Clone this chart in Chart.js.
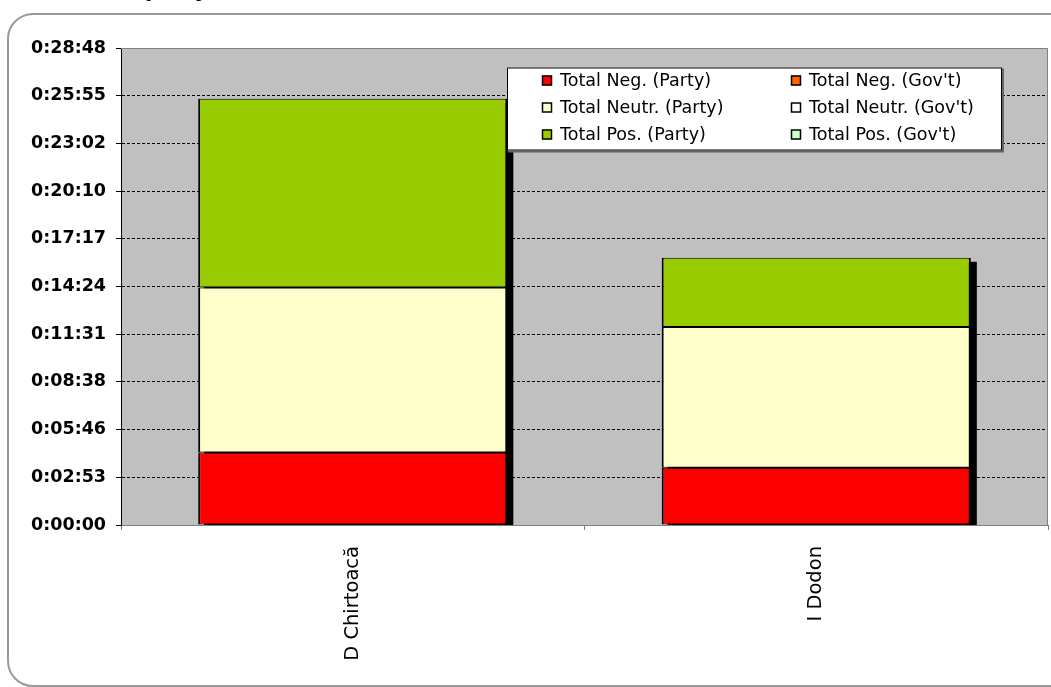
<!DOCTYPE html>
<html lang="en">
<head>
    <meta charset="UTF-8">
    <title>Party time</title>
    <script src="https://cdn.jsdelivr.net/npm/chart.js@4.4.1/dist/chart.umd.min.js"></script>
    <style>
        * {
            margin: 0;
            padding: 0;
            box-sizing: border-box;
        }

        body {
            width: 1051px;
            height: 687px;
            overflow: hidden;
            background: white;
            position: relative;
            font-family: 'DejaVu Sans', Verdana, sans-serif;
        }

        .title {
            position: absolute;
            left: 145px;
            top: -22px;
            font-size: 21px;
            font-weight: bold;
            color: #000;
            white-space: nowrap;
        }

        .frame {
            position: absolute;
            left: 7px;
            top: 13px;
            width: 1070px;
            height: 674px;
            border: 2px solid #999;
            border-radius: 26px;
        }

        .chart-box {
            position: absolute;
            left: 0;
            top: 0;
            width: 1051px;
            height: 687px;
        }
    </style>
</head>
<body>
    <div class="title">party</div>
    <div class="frame"></div>
    <div class="chart-box">
        <canvas id="partyChart" width="1051" height="687"></canvas>
    </div>

    <script>
        // values in seconds
        const categories = ['D Chirtoacă', 'I Dodon'];
        const negParty = [263, 207];
        const negGov = [0, 0];
        const neutrParty = [597, 510];
        const neutrGov = [0, 0];
        const posParty = [684, 251];
        const posGov = [0, 0];

        const yMax = 1728;
        const yStep = 172.8;
        const yTickLabels = ['0:00:00', '0:02:53', '0:05:46', '0:08:38', '0:11:31', '0:14:24',
            '0:17:17', '0:20:10', '0:23:02', '0:25:55', '0:28:48'];

        const seriesNames = ['Total Neg. (Party)', "Total Neg. (Gov't)", 'Total Neutr. (Party)',
            "Total Neutr. (Gov't)", 'Total Pos. (Party)', "Total Pos. (Gov't)"];
        const seriesColors = ['#FF0000', '#FF6600', '#FFFFCC', '#FFFFFF', '#99CC00', '#CCFFCC'];
        const seriesValues = [negParty, negGov, neutrParty, neutrGov, posParty, posGov];

        // grey plot area
        const plotBack = {
            id: 'plotBack',
            beforeDraw(chart) {
                const {ctx, chartArea: a} = chart;
                ctx.save();
                ctx.fillStyle = '#C0C0C0';
                ctx.fillRect(a.left, a.top, a.right - a.left, a.bottom - a.top);
                ctx.restore();
            },
            afterDraw(chart) {
                const {ctx, chartArea: a} = chart;
                ctx.save();
                ctx.strokeStyle = '#808080';
                ctx.lineWidth = 1;
                ctx.beginPath();
                ctx.moveTo(a.left, a.top + 0.5);
                ctx.lineTo(a.right - 0.5, a.top + 0.5);
                ctx.lineTo(a.right - 0.5, a.bottom);
                ctx.stroke();
                ctx.restore();
            }
        };

        // black drop shadow behind each stack
        const barShadow = {
            id: 'barShadow',
            beforeDatasetsDraw(chart) {
                const {ctx, chartArea: a} = chart;
                ctx.save();
                ctx.beginPath();
                ctx.rect(a.left, a.top, a.right - a.left, a.bottom - a.top);
                ctx.clip();
                ctx.fillStyle = '#000';
                categories.forEach((c, i) => {
                    let top = Infinity, bottom = -Infinity, left = 0, width = 0;
                    chart.data.datasets.forEach((ds, d) => {
                        const bar = chart.getDatasetMeta(d).data[i];
                        if (!bar) return;
                        const p = bar.getProps(['x', 'y', 'base', 'width'], true);
                        top = Math.min(top, p.y);
                        bottom = Math.max(bottom, p.base);
                        left = p.x - p.width / 2;
                        width = p.width;
                    });
                    ctx.fillRect(left + 6, top + 4, width, bottom - top);
                });
                ctx.restore();
            }
        };

        // two column legend box inside the plot
        const boxLegend = {
            id: 'boxLegend',
            afterDraw(chart) {
                const {ctx, chartArea: a} = chart;
                const x0 = a.left + 386, y0 = a.top + 19.5;
                const w = 495, h = 83;
                ctx.save();
                ctx.fillStyle = '#666';
                ctx.fillRect(x0 + 1, y0 + 1, w + 1, h + 1);
                ctx.fillStyle = '#fff';
                ctx.fillRect(x0, y0, w, h);
                ctx.strokeStyle = '#000';
                ctx.lineWidth = 1;
                ctx.strokeRect(x0 + 0.5, y0 + 0.5, w - 1, h - 1);
                ctx.font = '17.5px "DejaVu Sans"';
                ctx.textBaseline = 'middle';
                chart.data.datasets.forEach((ds, d) => {
                    const col = d % 2, row = Math.floor(d / 2);
                    const sx = x0 + 35 + col * 249;
                    const sy = y0 + 13 + row * 27;
                    ctx.fillStyle = ds.backgroundColor;
                    ctx.fillRect(sx, sy - 5, 10, 10);
                    ctx.strokeStyle = '#000';
                    ctx.lineWidth = 1.5;
                    ctx.strokeRect(sx + 0.5, sy - 4.5, 9, 9);
                    ctx.fillStyle = '#000';
                    ctx.fillText(ds.label, sx + 18, sy + 1);
                });
                ctx.restore();
            }
        };

        new Chart(document.getElementById('partyChart'), {
            type: 'bar',
            data: {
                labels: categories,
                datasets: seriesNames.map((name, i) => ({
                    label: name,
                    data: seriesValues[i],
                    backgroundColor: seriesColors[i],
                    borderColor: '#000',
                    borderWidth: {top: 1, bottom: 1, left: 2, right: 2},
                    borderSkipped: false,
                    categoryPercentage: 1,
                    barPercentage: 0.667
                }))
            },
            options: {
                responsive: false,
                animation: false,
                layout: {
                    padding: {top: 48, right: 3, left: 0, bottom: 0}
                },
                plugins: {
                    legend: {display: false},
                    tooltip: {enabled: false}
                },
                scales: {
                    x: {
                        stacked: true,
                        afterFit(scale) { scale.height = 162; },
                        grid: {
                            offset: true,
                            drawOnChartArea: false,
                            color: '#808080',
                            tickLength: 5
                        },
                        border: {color: '#808080', width: 1},
                        ticks: {
                            minRotation: 90,
                            maxRotation: 90,
                            padding: 16,
                            color: '#000',
                            font: {family: 'DejaVu Sans', size: 19.5}
                        }
                    },
                    y: {
                        stacked: true,
                        min: 0,
                        max: yMax,
                        afterFit(scale) { scale.width = 121; },
                        grid: {
                            color: (ctx) => (ctx.index === 0 || ctx.index === yTickLabels.length - 1) ? 'rgba(0,0,0,0)' : '#000',
                            tickColor: '#000',
                            tickLength: 5,
                            lineWidth: 1
                        },
                        border: {color: '#000', width: 1, dash: [3, 2]},
                        ticks: {
                            stepSize: yStep,
                            padding: 10,
                            color: '#000',
                            font: {family: 'DejaVu Sans', size: 17.5, weight: 'bold'},
                            callback: (value, index) => yTickLabels[index]
                        }
                    }
                }
            },
            plugins: [plotBack, barShadow, boxLegend]
        });
    </script>
</body>
</html>
